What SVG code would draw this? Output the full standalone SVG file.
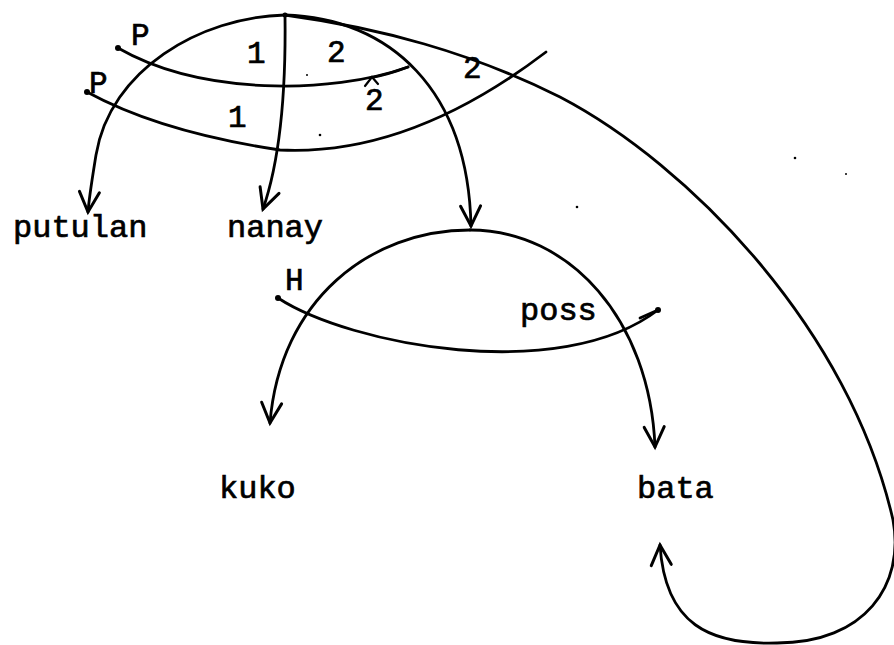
<svg xmlns="http://www.w3.org/2000/svg" width="894" height="645" viewBox="0 0 894 645">
<style>
  .c { fill: none; stroke: #000; stroke-width: 2.8; stroke-linecap: round; }
  .a { marker-end: url(#chev); }
  .t { font-family: "Liberation Mono", "DejaVu Sans Mono", monospace; fill: #000; stroke: #000; stroke-width: 0.7; }
  .w { font-size: 32px; }
  .n { font-size: 31px; }
  .l { font-size: 31px; }
  .dot { fill: #000; }
</style>
<defs>
  <marker id="chev" markerUnits="userSpaceOnUse" markerWidth="30" markerHeight="30" viewBox="-24 -15 30 30" refX="0" refY="0" orient="auto">
    <path d="M-20,-10 L0,0 L-20,10" fill="none" stroke="#000" stroke-width="3" stroke-linecap="round" stroke-linejoin="miter"/>
  </marker>
</defs>
<rect width="894" height="645" fill="#fff"/>

<g id="connectors">
  <path class="c a" d="M285,15 C200,17 110,70 96,155 C92,180 89,198 88,212"/>
  <path class="c a" d="M285,15 C286,90 280,160 263,209"/>
  <path class="c a" d="M285,15 C390,18 468,90 471,226"/>
  <path class="c a" d="M285,15 C380,28 470,52 560,97 C690,165 850,330 893,520 C905,585 865,643 777,643 C710,645 665,625 660,545"/>
  <path class="c a" d="M470,230 C370,230 280,300 270,423"/>
  <path class="c a" d="M470,230 C570,230 650,320 655,447"/>
  <path class="c" d="M118,48 C200,95 330,95 408,67"/>
  <path class="c" d="M370,78 Q390,74 408,67" stroke-width="4.2"/>
  <path class="c" d="M87,92 C120,110 180,135 280,150 C380,155 470,110 546,52"/>
  <path class="c" d="M278,298 C350,345 560,385 658,310"/>
  <path class="c" d="M640,318 L658,310" stroke-width="3.6"/>
  <circle class="dot" cx="118" cy="48" r="3"/>
  <circle class="dot" cx="87" cy="92" r="3"/>
  <circle class="dot" cx="278" cy="298" r="3"/>
  <circle class="dot" cx="658" cy="310" r="3"/>
  <circle class="dot" cx="285" cy="15" r="2.5"/>
  <path d="M365,86 L372,77 L378,84" fill="none" stroke="#000" stroke-width="2.2" stroke-linecap="round"/>
</g>

<g id="labels-top">
  <text class="t l" x="131" y="45">P</text>
  <text class="t l" x="89" y="93">P</text>
  <text class="t n" x="247" y="63">1</text>
  <text class="t n" x="327" y="62">2</text>
  <text class="t n" x="463" y="78">2</text>
  <text class="t n" x="228" y="127">1</text>
  <text class="t n" x="365" y="110">2</text>
</g>

<g id="node-putulan"><text class="t w" x="13" y="237">putulan</text></g>
<g id="node-nanay"><text class="t w" x="227" y="237">nanay</text></g>

<g id="node-lower">
  <text class="t l" x="285" y="290">H</text>
  <text class="t w" x="520" y="320">poss</text>
</g>

<g id="node-kuko"><text class="t w" x="219" y="498">kuko</text></g>
<g id="node-bata"><text class="t w" x="637" y="498">bata</text></g>

<g id="specks">
  <circle class="dot" cx="307" cy="75" r="1"/>
  <circle class="dot" cx="320" cy="135" r="1.3"/>
  <circle class="dot" cx="577" cy="207" r="1.3"/>
  <circle class="dot" cx="795" cy="158" r="1.3"/>
  <circle class="dot" cx="846" cy="174" r="1"/>
</g>
</svg>
